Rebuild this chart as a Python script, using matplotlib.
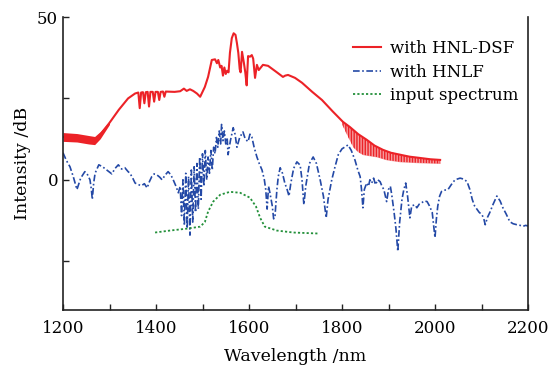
import matplotlib
matplotlib.use("Agg")
import matplotlib.pyplot as plt
from matplotlib.ticker import MultipleLocator, FixedLocator, FixedFormatter

plt.rcParams['font.family'] = ['DejaVu Serif']
plt.rcParams['mathtext.fontset'] = 'dejavuserif'

# ---------------- data ----------------
red_x = [1200, 1230, 1255, 1268, 1280, 1300, 1320, 1340, 1355,
         1362, 1365, 1368, 1372, 1375, 1378, 1382, 1385, 1388, 1393, 1396, 1399,
         1404, 1407, 1410, 1415, 1418, 1421, 1440, 1452, 1460, 1466, 1473, 1480,
         1488, 1495, 1505, 1512, 1520, 1527, 1531, 1534, 1538, 1541, 1544, 1547,
         1550, 1553, 1556, 1559, 1563, 1567, 1571, 1574, 1577, 1580, 1582, 1585,
         1589, 1592, 1595, 1598, 1602, 1606, 1609, 1613, 1617, 1621, 1630, 1641,
         1660, 1673, 1678, 1684, 1699, 1714, 1736, 1757, 1780, 1802, 1817, 1835,
         1853, 1870, 1888, 1905, 1925, 1945, 1968, 1990, 2011]
red_y = [13.2, 12.9, 12.3, 12.0, 13.8, 17.5, 21.5, 25.0, 26.5,
         26.8, 22.0, 26.8, 26.9, 23.5, 26.9, 27.0, 22.5, 27.0, 27.0, 24.0, 27.0,
         27.0, 24.5, 27.0, 27.1, 25.5, 27.1, 27.0, 27.2, 28.0, 27.3, 27.8, 27.3,
         26.5, 25.5, 28.5, 31.6, 36.8, 37.0, 35.8, 36.8, 34.5, 35.0, 32.0, 34.5,
         32.5, 33.5, 33.0, 39.0, 43.5, 45.0, 44.5, 42.0, 39.0, 34.0, 33.0, 39.3,
         35.9, 33.0, 29.0, 38.0, 37.8, 38.3, 37.2, 31.3, 35.3, 33.7, 35.3, 35.0,
         33.0, 31.6, 32.0, 32.2, 31.3, 29.8, 27.0, 24.5, 21.0, 17.8, 16.2, 14.0,
         12.3, 10.5, 9.2, 8.3, 7.7, 7.1, 6.7, 6.3, 6.1]

# noisy band at the start of the red trace
red_band1_x = [1200, 1230, 1255, 1268, 1280, 1300]
red_band1_hi = [14.5, 14.2, 13.6, 13.3, 14.8, 18.0]
red_band1_lo = [11.8, 11.6, 11.0, 10.8, 12.6, 17.0]

# dense comb / band on the long-wavelength edge of the red trace
red_band2_x = [1800, 1810, 1817, 1824, 1835, 1845, 1853, 1875, 1896, 1925, 1968, 2011]
red_band2_hi = [18.0, 17.0, 16.2, 15.3, 14.0, 13.0, 12.3, 10.0, 8.9, 7.7, 6.7, 6.1]
red_band2_lo = [17.0, 14.0, 12.0, 10.0, 8.5, 7.7, 7.5, 7.0, 6.1, 5.5, 5.2, 5.0]

blue_x = [1200, 1207, 1215, 1222, 1230, 1238, 1247, 1253, 1258, 1261, 1263, 1266,
          1269, 1277, 1285, 1294, 1305, 1312, 1319, 1326, 1333, 1340, 1344, 1350,
          1355, 1362, 1369, 1375, 1381, 1386, 1391, 1396, 1402, 1408, 1413, 1420,
          1426, 1432, 1437, 1443, 1448,
          1452, 1455, 1458, 1461, 1464, 1467, 1470, 1473, 1476, 1479, 1482, 1485,
          1488, 1491, 1494, 1497, 1500, 1503, 1506, 1509, 1512, 1515, 1518, 1521,
          1524, 1527, 1530, 1533, 1536, 1539, 1541, 1544, 1547, 1550, 1553, 1555,
          1560, 1566, 1570, 1574, 1580, 1587, 1592, 1598, 1602, 1606, 1611, 1617,
          1622, 1628, 1633, 1636, 1639, 1642, 1645, 1650, 1653, 1656, 1660, 1663,
          1667, 1672, 1677, 1682, 1686, 1690, 1696, 1703, 1710, 1714, 1718, 1722,
          1730, 1738, 1745, 1753, 1760, 1766, 1770, 1778, 1785, 1792, 1800, 1813,
          1820, 1828, 1834, 1839, 1842, 1845, 1848, 1853, 1857, 1860, 1864, 1868,
          1872, 1877, 1882, 1886, 1890, 1896, 1900, 1904, 1907, 1912, 1916, 1920,
          1924, 1929, 1933, 1937, 1941, 1946, 1950, 1957, 1961, 1966, 1972, 1977,
          1983, 1988, 1994, 1997, 2000, 2003, 2006, 2010, 2014, 2020, 2028, 2035,
          2043, 2054, 2062, 2069, 2075, 2080, 2085, 2090, 2095, 2101, 2105, 2108,
          2113, 2118, 2125, 2133, 2140, 2146, 2153, 2161, 2168, 2176, 2183, 2189,
          2195, 2200]
blue_y = [8.3, 6.0, 4.0, 1.0, -3.0, 0.5, 2.5, 1.5, 0.0, -3.0, -6.0, -1.0,
          2.0, 4.6, 4.0, 3.0, 1.8, 3.5, 4.6, 3.3, 3.7, 2.5, 2.0, 0.5,
          -1.0, -1.5, -1.8, -1.2, -2.5, -0.5, 1.0, 1.8, 1.5, 0.8, 0.0, 1.5,
          2.5, 1.5, 0.0, -2.0, -4.0,
          -2.0, -11.0, 0.0, -14.0, 2.0, -15.0, 1.0, -17.0, 3.0, -13.0, 4.0, -10.0,
          5.0, -9.0, 7.0, -6.0, 8.0, -2.0, 9.0, 0.0, 7.0, 2.0, 9.0, 3.0,
          10.0, 8.0, 13.0, 10.0, 15.0, 11.0, 17.0, 12.0, 15.0, 11.0, 13.0, 7.7,
          12.0, 16.0, 14.0, 10.0, 13.0, 14.7, 12.5, 11.7, 14.0, 13.2, 10.0, 7.0,
          5.0, 3.0, 0.0, -3.0, -9.0, -2.0, -4.0, -8.0, -12.0, -11.0, -3.0, 1.0,
          3.7, 2.0, -1.0, -3.0, -5.0, -1.0, 3.5, 5.5, 4.5, 0.0, -7.7, -2.0,
          5.0, 7.0, 5.0, 0.0, -5.0, -11.7, -6.0, 0.0, 4.0, 7.7, 9.5, 10.7,
          9.0, 6.0, 3.0, 1.0, -3.0, -8.6, -3.0, -1.0, -2.0, 0.0, -1.0, 0.5,
          -1.5, 0.0, -0.6, -2.0, -3.0, -6.7, -3.0, -2.0, -4.6, -10.0, -15.0, -22.0,
          -13.0, -6.0, -3.0, -1.0, -5.0, -11.7, -8.0, -7.7, -8.6, -7.5, -7.0, -6.5,
          -6.7, -8.0, -10.0, -14.0, -17.8, -12.0, -8.0, -5.0, -3.6, -3.2, -3.0, -1.5,
          0.0, 0.5, 0.2, -0.6, -3.0, -6.0, -8.0, -9.0, -10.0, -10.7, -12.0, -13.8,
          -11.5, -10.0, -7.5, -5.0, -6.5, -8.6, -10.5, -12.9, -13.5, -13.8, -14.0, -14.3,
          -14.0, -14.2]

green_x = [1398, 1430, 1467, 1495, 1505, 1512, 1523, 1538, 1559, 1581, 1602,
           1615, 1624, 1634, 1660, 1695, 1748]
green_y = [-16.2, -15.6, -15.0, -14.4, -13.0, -9.8, -6.7, -4.6, -3.7, -4.0, -5.5,
           -8.2, -11.7, -14.4, -15.6, -16.2, -16.5]

series_labels = ['with HNL-DSF', 'with HNLF', 'input spectrum']
x_ticks = [1200, 1400, 1600, 1800, 2000, 2200]
y_ticks = [-25, 0, 25, 50]
y_ticklabels = ['', '0', '', '50']

RED = '#ec2227'
BLUE = '#2449a6'
GREEN = '#23903a'

# ---------------- figure ----------------
fig = plt.figure(figsize=(5.55, 3.72), dpi=100)
ax = fig.add_axes([63/555, 1 - 310/372, (528-63)/555, (310-17)/372])

ax.fill_between(red_band1_x, red_band1_lo, red_band1_hi, color=RED, lw=0)
ax.fill_between(red_band2_x, red_band2_lo, red_band2_hi, facecolor='none',
                edgecolor=RED, hatch='||||||', lw=0)
ax.fill_between(red_band2_x, red_band2_lo, red_band2_hi, color=RED, lw=0, alpha=0.45)
ax.plot(red_x, red_y, color=RED, lw=1.5, label=series_labels[0])
ax.plot(blue_x, blue_y, color=BLUE, lw=1.2, dashes=(4, 1.5, 1, 1.5), label=series_labels[1])
ax.plot(green_x, green_y, color=GREEN, lw=1.3, dashes=(1.2, 1.2), label=series_labels[2])

ax.set_xlim(1200, 2200)
ax.set_ylim(-40, 50)
ax.xaxis.set_major_locator(FixedLocator(x_ticks))
ax.xaxis.set_minor_locator(MultipleLocator(100))
ax.yaxis.set_major_locator(FixedLocator(y_ticks))
ax.yaxis.set_major_formatter(FixedFormatter(y_ticklabels))
ax.tick_params(which='both', direction='in', labelsize=12, color='#222222', width=1.0)
ax.tick_params(which='major', length=4)
ax.tick_params(which='minor', length=4)
ax.tick_params(axis='x', pad=7)

for s in ['left', 'bottom', 'right']:
    ax.spines[s].set_linewidth(1.2)
    ax.spines[s].set_color('#222222')
ax.spines['top'].set_visible(False)

ax.set_xlabel('Wavelength /nm', fontsize=12.5, labelpad=8)
ax.set_ylabel('Intensity /dB', fontsize=12.5, labelpad=4)

leg = ax.legend(loc='upper right', bbox_to_anchor=(1.0, 0.955), frameon=False,
                fontsize=12, handlelength=1.7, handletextpad=0.5, labelspacing=0.38,
                borderaxespad=0.2)

fig.savefig('out.png', dpi=100)
